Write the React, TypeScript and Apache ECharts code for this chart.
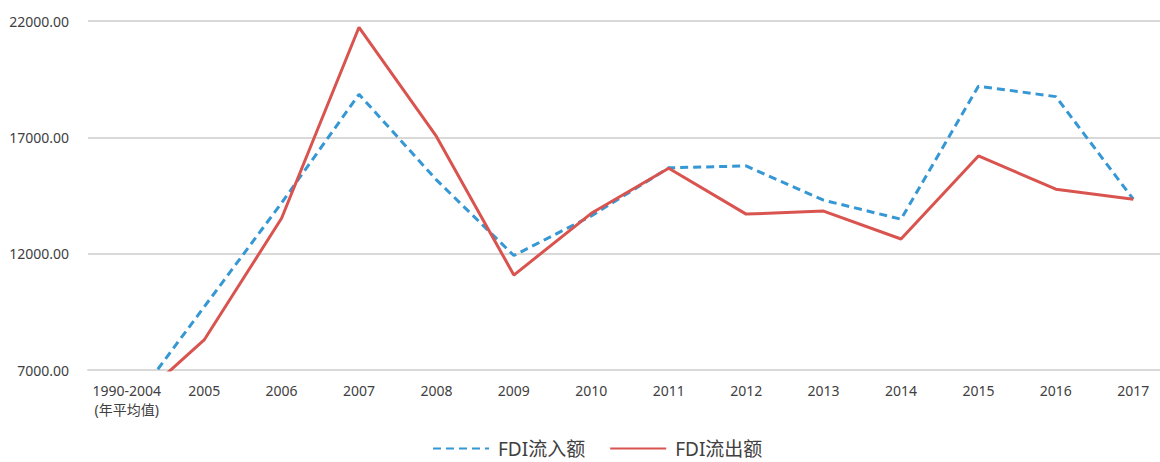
import React, { useEffect, useRef } from "react";
import * as echarts from "echarts";

const categories = [
  "1990-2004\n(年平均值)",
  "2005", "2006", "2007", "2008", "2009", "2010", "2011",
  "2012", "2013", "2014", "2015", "2016", "2017",
];
const inflow = [5240, 9710, 14180, 18850, 15170, 11920, 13620, 15690, 15770, 14300, 13480, 19200, 18750, 14340];
const outflow = [5300, 8290, 13520, 21730, 17040, 11080, 13735, 15670, 13700, 13830, 12630, 16200, 14770, 14340];
const yTicks = { min: 7000, max: 22000, interval: 5000 };

const FONT = "'Noto Sans', 'Noto Sans CJK SC', sans-serif";

export default function App() {
  const ref = useRef<HTMLDivElement>(null);
  useEffect(() => {
    document.body.style.margin = "0";
    const chart = echarts.init(ref.current!, null, { renderer: "svg" });
    chart.setOption({
      animation: false,
      textStyle: { fontFamily: FONT },
      grid: {
        left: 88,
        width: 1084,
        top: 21,
        height: 349,
        containLabel: false,
        outerBoundsMode: "none",
      },
      legend: {
        top: 439,
        left: 432,
        padding: 0,
        itemWidth: 56,
        itemHeight: 14,
        itemGap: 24,
        itemStyle: { opacity: 0 },
        textStyle: {
          fontSize: 19,
          lineHeight: 19,
          color: "#404040",
          fontFamily: FONT,
          padding: [0, 0, 0, 4],
        },
        data: ["FDI流入额", "FDI流出额"],
      },
      xAxis: {
        type: "category",
        data: categories,
        boundaryGap: true,
        axisLine: { show: true, lineStyle: { color: "#d9d9d9", width: 2 } },
        axisTick: { show: false },
        axisLabel: {
          color: "#404040",
          fontSize: 14,
          margin: 11,
          lineHeight: 19,
          interval: 0,
          fontFamily: FONT,
        },
      },
      yAxis: {
        type: "value",
        min: yTicks.min,
        max: yTicks.max,
        interval: yTicks.interval,
        axisLine: { show: false },
        axisTick: { show: false },
        splitLine: { lineStyle: { color: "#d9d9d9", width: 2 } },
        axisLabel: {
          color: "#404040",
          fontSize: 14,
          margin: 19,
          fontFamily: FONT,
          formatter: (v: number) => v.toFixed(2),
        },
      },
      series: [
        {
          name: "FDI流入额",
          type: "line",
          data: inflow,
          symbol: "none",
          lineStyle: { color: "#3597d3", width: 3, type: [8, 5] },
          itemStyle: { color: "#3597d3" },
        },
        {
          name: "FDI流出额",
          type: "line",
          data: outflow,
          symbol: "none",
          lineStyle: { color: "#d9534f", width: 3 },
          itemStyle: { color: "#d9534f" },
        },
      ],
    });
    return () => chart.dispose();
  }, []);
  return <div ref={ref} style={{ width: 1160, height: 462 }} />;
}
